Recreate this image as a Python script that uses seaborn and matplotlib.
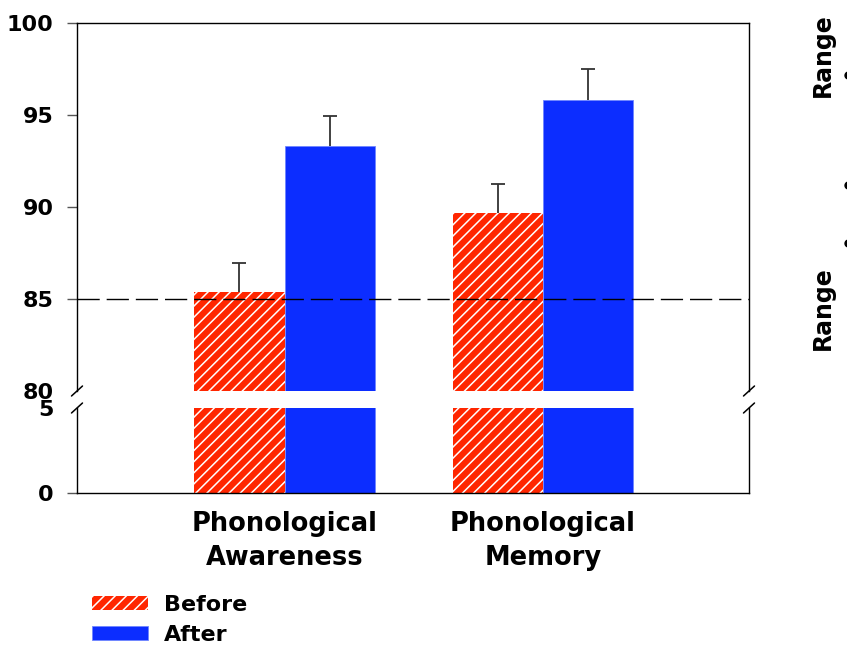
import numpy as np
import pandas as pd
import matplotlib
matplotlib.use("Agg")
import matplotlib.pyplot as plt
from matplotlib.lines import Line2D
import seaborn as sns

# ---- data -------------------------------------------------------------
categories = ["Phonological\nAwareness", "Phonological\nMemory"]
phases = ["Before", "After"]
before_scores = [85.4, 89.7]
after_scores = [93.3, 95.8]
before_err = [1.55, 1.55]
after_err = [1.65, 1.7]
top_ticks = [80, 85, 90, 95, 100]
bottom_ticks = [0, 5]
normal_cutoff = 85

# ---- style ------------------------------------------------------------
sns.set_style("white")
plt.rcParams["font.family"] = ["DejaVu Sans"]
plt.rcParams["font.weight"] = "bold"
plt.rcParams["text.color"] = "black"
plt.rcParams["xtick.color"] = "black"
plt.rcParams["ytick.color"] = "black"
plt.rcParams["hatch.linewidth"] = 1.1

RED = "#FF2600"
BLUE = "#0C2DFF"

df = pd.DataFrame({
    "Test": categories * 2,
    "Phase": ["Before"] * 2 + ["After"] * 2,
    "Score": before_scores + after_scores,
})

W, H = 847, 650
fig = plt.figure(figsize=(W / 100, H / 100), dpi=100)

def px_axes(left, top, right, bottom):
    return fig.add_axes([left / W, 1 - bottom / H, (right - left) / W, (bottom - top) / H])

ax_top = px_axes(77, 23, 749, 391)
ax_bot = px_axes(77, 408, 749, 493)

for ax in (ax_top, ax_bot):
    sns.barplot(data=df, x="Test", y="Score", hue="Phase", hue_order=phases,
                palette=[RED, BLUE], width=0.7, errorbar=None, legend=False,
                saturation=1, ax=ax)
    for bar in ax.containers[0]:
        bar.set_hatch("///")
        bar.set_edgecolor("white")
        bar.set_linewidth(0)
    for bar in ax.containers[1]:
        bar.set_edgecolor("#6f86ff")
        bar.set_linewidth(0.6)
    ax.set_xlim(-0.803, 1.797)
    ax.set_xlabel("")
    ax.set_ylabel("")
    for s in ax.spines.values():
        s.set_color("black")
        s.set_linewidth(1.0)

# error bars (upper side only)
for cont, errs in zip(ax_top.containers, [before_err, after_err]):
    xs = np.array([b.get_x() + b.get_width() / 2 for b in cont])
    ys = np.array([b.get_height() for b in cont])
    tops = ys + np.array(errs)
    ax_top.vlines(xs, ys, tops, color="#333333", lw=1.3, zorder=3)
    ax_top.hlines(tops, xs - 0.027, xs + 0.027, color="#333333", lw=1.3, zorder=3)

ax_top.axhline(normal_cutoff, color="black", lw=1.0, dashes=(16, 5), zorder=5)

ax_top.set_ylim(80, 100)
ax_bot.set_ylim(0, 5)
ax_top.set_yticks(top_ticks)
ax_bot.set_yticks(bottom_ticks)
ax_top.set_xticks([])
ax_top.spines["bottom"].set_visible(False)
ax_bot.spines["top"].set_visible(False)

for ax in (ax_top, ax_bot):
    ax.tick_params(axis="y", which="major", left=True, length=7, width=1,
                   color="#555555", labelcolor="black", pad=10, labelsize=16)
ax_bot.tick_params(axis="x", length=0, pad=13, labelsize=18.5, labelcolor="black")
for lab in ax_bot.get_xticklabels():
    lab.set_fontweight("bold")
    lab.set_linespacing(1.38)
for lab in ax_top.get_yticklabels() + ax_bot.get_yticklabels():
    lab.set_fontweight("bold")

# no tick marks at the break values
ax_top.yaxis.get_major_ticks()[0].tick1line.set_visible(False)
ax_bot.yaxis.get_major_ticks()[1].tick1line.set_visible(False)

# axis break marks
for xf in (0, 1):
    for ax, yc, hy in ((ax_top, 0.0, 5 / 368), (ax_bot, 1.0, 5 / 85)):
        ax.add_line(Line2D([xf - 5.5 / 672, xf + 5.5 / 672], [yc - hy, yc + hy],
                           transform=ax.transAxes, color="black", lw=1.1, clip_on=False))

# legend
handles = [ax_top.containers[0][0], ax_top.containers[1][0]]
fig.legend(handles, phases, loc="upper left", bbox_to_anchor=(92 / W, 1 - 595 / H),
           frameon=False, borderpad=0, borderaxespad=0,
           handlelength=2.5, handleheight=0.6, handletextpad=0.75, labelspacing=0.45,
           prop={"weight": "bold", "size": 16})

# range annotations on the right margin
fig.text(823 / W, 1 - 55 / H, "Range", rotation=90, ha="center", va="center",
         fontsize=17, fontweight="bold")
fig.text(823 / W, 1 - 308 / H, "Range", rotation=90, ha="center", va="center",
         fontsize=17, fontweight="bold")
for yy in (75, 185, 243):
    fig.add_artist(Line2D([848 / W], [1 - yy / H], marker="o", markersize=5,
                          color="black", transform=fig.transFigure))

fig.savefig("out.png", dpi=100)
